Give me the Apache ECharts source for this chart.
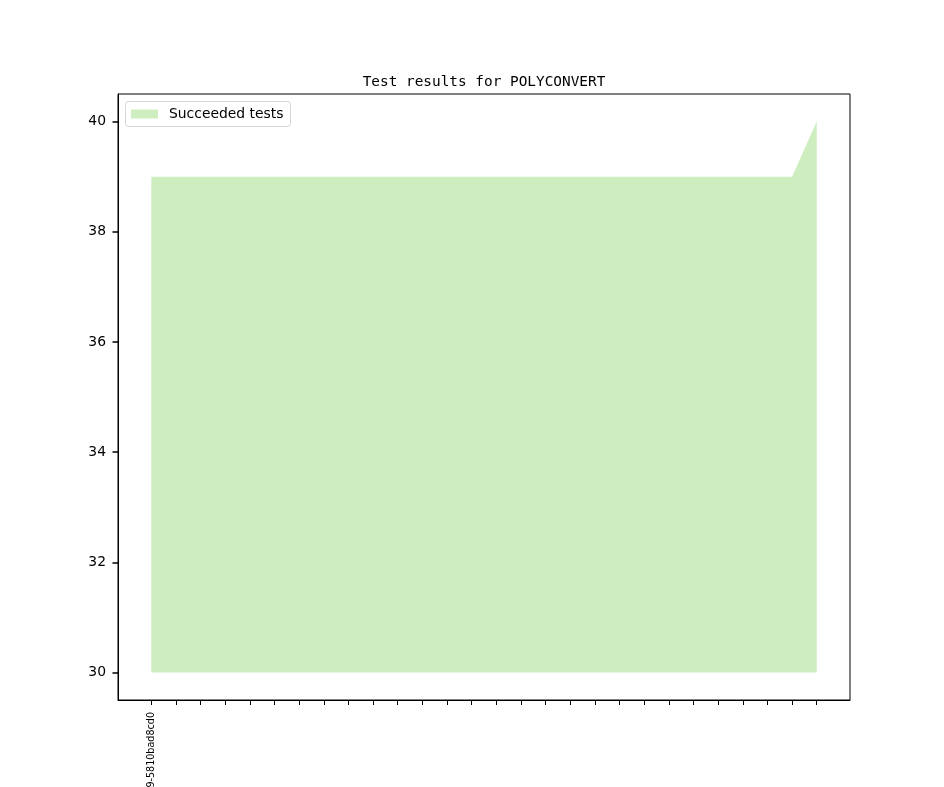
<!DOCTYPE html>
<html>
<head>
<meta charset="utf-8">
<title>Test results for POLYCONVERT</title>
<script src="https://cdn.jsdelivr.net/npm/echarts@6/dist/echarts.min.js"></script>
<style>
  html, body { margin: 0; padding: 0; background: #fff; }
  #chart { width: 944px; height: 787px; }
</style>
</head>
<body>
<div id="chart"></div>
<script>
// one entry per build, only the first commit gets a label
var commitLabels = ['9-5810bad8cd0', '', '', '', '', '', '', '', '', '', '', '', '', '',
                    '', '', '', '', '', '', '', '', '', '', '', '', '', ''];
var succeeded = [39, 39, 39, 39, 39, 39, 39, 39, 39, 39, 39, 39, 39, 39,
                 39, 39, 39, 39, 39, 39, 39, 39, 39, 39, 39, 39, 39, 40];
var yTicks = [30, 32, 34, 36, 38, 40];

var xTicks = commitLabels.map(function (c, i) { return i; });
var pad = (commitLabels.length - 1) * 0.05;

var myChart = echarts.init(document.getElementById('chart'));
myChart.setOption({
    animation: false,
    title: {
        text: 'Test results for POLYCONVERT',
        left: 484,
        textAlign: 'center',
        top: 75,
        padding: 0,
        textStyle: {
            fontFamily: 'DejaVu Sans Mono',
            fontSize: 14.4,
            fontWeight: 'normal',
            color: '#000'
        }
    },
    legend: {
        left: 125.5,
        top: 101.5,
        orient: 'vertical',
        padding: [5.5, 7, 5.5, 5.5],
        borderColor: '#d6d6d6',
        borderWidth: 1,
        borderRadius: 3,
        backgroundColor: '#fff',
        itemWidth: 27,
        itemHeight: 9,
        icon: 'rect',
        textStyle: {
            fontFamily: 'DejaVu Sans',
            fontSize: 13.9,
            color: '#000',
            padding: [0, 0, 0, 6]
        },
        data: ['Succeeded tests']
    },
    grid: {
        left: 118,
        right: 94,
        top: 94,
        bottom: 87,
        show: true,
        borderColor: '#000',
        borderWidth: 1,
        containLabel: false,
        outerBoundsMode: 'none'
    },
    xAxis: {
        type: 'value',
        position: 'bottom',
        min: -pad,
        max: commitLabels.length - 1 + pad,
        splitLine: { show: false },
        axisLine: { show: true, onZero: false, lineStyle: { color: '#000', width: 1 } },
        axisTick: {
            show: true,
            length: 5,
            customValues: xTicks,
            lineStyle: { color: '#000', width: 1 }
        },
        axisLabel: {
            customValues: [0],
            rotate: 90,
            margin: 12,
            fontFamily: 'DejaVu Sans',
            fontSize: 9.6,
            color: '#000',
            formatter: function (v) { return commitLabels[Math.round(v)] || ''; }
        }
    },
    yAxis: {
        type: 'value',
        position: 'left',
        min: 29.5,
        max: 40.5,
        splitLine: { show: false },
        axisLine: { show: true, onZero: false, lineStyle: { color: '#000', width: 1 } },
        axisTick: {
            show: true,
            inside: false,
            length: 5.5,
            customValues: yTicks.slice(),
            lineStyle: { color: '#000', width: 1.5 }
        },
        axisLabel: {
            customValues: yTicks.slice(),
            margin: 12,
            padding: [3, 0, 0, 0],
            fontFamily: 'DejaVu Sans',
            fontSize: 13.9,
            color: '#000'
        }
    },
    series: [{
        name: 'Succeeded tests',
        type: 'line',
        data: succeeded.map(function (v, i) { return [i, v]; }),
        showSymbol: false,
        symbol: 'none',
        color: '#cfeebf',
        lineStyle: { width: 0 },
        areaStyle: { color: '#cfeebf', opacity: 1, origin: 30 }
    }]
});
</script>
</body>
</html>
